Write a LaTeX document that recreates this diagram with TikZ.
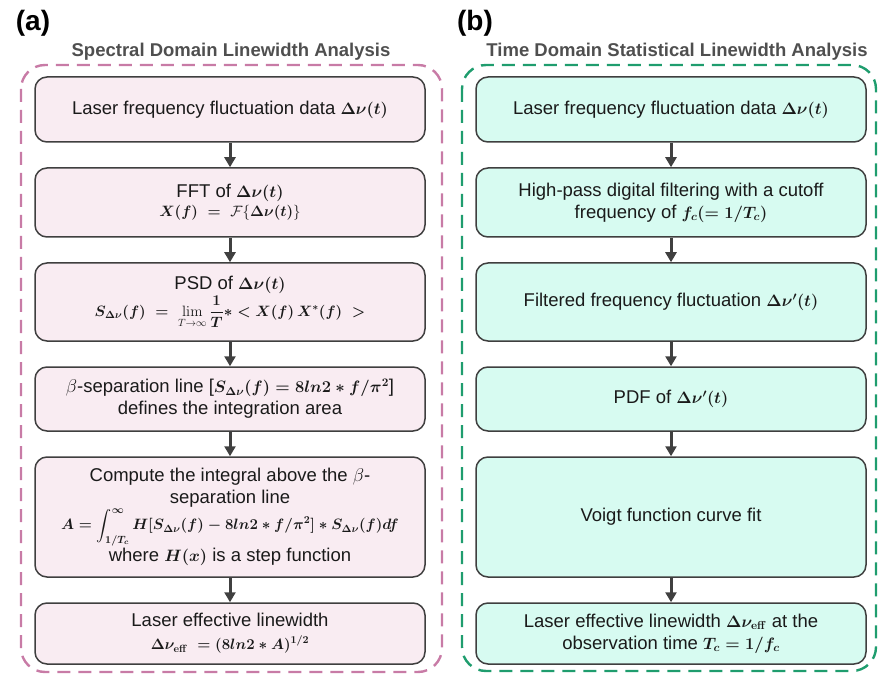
\documentclass[tikz,border=0pt]{standalone}
\usepackage{fix-cm}
\usepackage{amsmath,amssymb}
\usepackage{bm}
\usepackage[no-math]{fontspec}
\setmainfont{Liberation Sans}
\usetikzlibrary{arrows.meta}
\definecolor{pinkfill}{HTML}{F9ECF2}
\definecolor{cyanfill}{HTML}{D7FBF1}
\definecolor{boxline}{HTML}{3F3F3F}
\definecolor{arrowc}{HTML}{404040}
\definecolor{pinkdash}{HTML}{C87BA6}
\definecolor{greendash}{HTML}{1F9D6E}
\definecolor{titlec}{HTML}{4F4F4F}
\definecolor{txt}{HTML}{1A1A1A}
\newcommand{\bmx}[1]{{\fontsize{16.5}{20}\selectfont\boldmath$#1$}}
\newcommand{\fmx}[1]{{\fontsize{15}{18}\selectfont\boldmath$\displaystyle #1$}}
\begin{document}
\begin{tikzpicture}[x=1pt,y=-1pt,
  box/.style={draw=boxline, line width=1.5pt, rounded corners=12pt, minimum width=390pt,
    align=center, text=txt, font=\fontsize{18.5}{22}\selectfont, inner sep=2pt},
  lbox/.style={box, fill=pinkfill},
  rbox/.style={box, fill=cyanfill},
  arr/.style={draw=arrowc, line width=3pt, -{Triangle[length=10pt,width=11pt]}},
  frame/.style={line width=2.4pt, rounded corners=24pt, dash pattern=on 13pt off 8pt},
  paneltitle/.style={font=\bfseries\fontsize{18.5}{22}\selectfont, text=titlec, inner sep=0pt},
  panellabel/.style={font=\bfseries\fontsize{28}{32}\selectfont, text=black, inner sep=0pt}]
\useasboundingbox (0,0) rectangle (878,676);

% panel labels and titles
\node[panellabel] (la) at (33,23) {(a)};
\node[panellabel] (lb) at (475,23) {(b)};
\node[paneltitle] (ta) at (231,52) {Spectral Domain Linewidth Analysis};
\node[paneltitle] (tb) at (677,52) {Time Domain Statistical Linewidth Analysis};

% dashed frames
\draw[frame, draw=pinkdash] (21,65) rectangle (442,672);
\draw[frame, draw=greendash] (462,65) rectangle (876,671);

% left column
\node[lbox, minimum height=65pt] (a1) at (230,109.5) {Laser frequency fluctuation data \bmx{\Delta\nu(t)}};
\node[lbox, minimum height=69pt] (a2) at (230,202.5) {FFT of \bmx{\Delta\nu(t)}\\[-3pt]
  \fmx{X(f)\;=\;\mbox{\unboldmath$\mathcal{F}\{$}\Delta\nu(t)\mbox{\unboldmath$\}$}}};
\node[lbox, minimum height=78pt] (a3) at (230,302) {PSD of \bmx{\Delta\nu(t)}\\[1pt]
  \fmx{S_{\Delta\nu}(f)\;=\;\mbox{\unboldmath$\displaystyle\lim_{\boldmath T\to\infty}$}\,\frac{1}{T}\ast<X(f)\,X^{*}(f)\;>}};
\node[lbox, minimum height=64pt] (a4) at (230,399) {$\beta$-separation line [\bmx{S_{\Delta\nu}(f)=8ln2\ast f/\pi^{2}}]\\
  defines the integration area};
\node[lbox, minimum height=120pt] (a5) at (230,517) {Compute the integral above the $\beta$-\\
  separation line\\[0pt]
  \fmx{A=\int_{1/T_c}^{\infty}H[S_{\Delta\nu}(f)-8ln2\ast f/\pi^{2}]\ast S_{\Delta\nu}(f)df}\\[1pt]
  where \bmx{H(x)} is a step function};
\node[lbox, minimum height=61pt] (a6) at (230,633.5) {Laser effective linewidth\\[1pt]
  \fmx{\Delta\nu_{\mathbf{eff}}\;=(8ln2\ast A)^{1/2}}};

\draw[arr] (a1.south) -- (a2.north);
\draw[arr] (a2.south) -- (a3.north);
\draw[arr] (a3.south) -- (a4.north);
\draw[arr] (a4.south) -- (a5.north);
\draw[arr] (a5.south) -- (a6.north);

% right column
\node[rbox, minimum height=65pt] (b1) at (671,109.5) {Laser frequency fluctuation data \bmx{\Delta\nu(t)}};
\node[rbox, minimum height=69pt] (b2) at (671,202.5) {High-pass digital filtering with a cutoff\\
  frequency of \bmx{f_c(=1/T_c)}};
\node[rbox, minimum height=78pt] (b3) at (671,302) {Filtered frequency fluctuation \bmx{\Delta\nu'(t)}};
\node[rbox, minimum height=64pt] (b4) at (671,399) {PDF of \bmx{\Delta\nu'(t)}};
\node[rbox, minimum height=120pt] (b5) at (671,517) {Voigt function curve fit};
\node[rbox, minimum height=61pt] (b6) at (671,633.5) {Laser effective linewidth \bmx{\Delta\nu_{\mathbf{eff}}} at the\\
  observation time \bmx{T_c=1/f_c}};

\draw[arr] (b1.south) -- (b2.north);
\draw[arr] (b2.south) -- (b3.north);
\draw[arr] (b3.south) -- (b4.north);
\draw[arr] (b4.south) -- (b5.north);
\draw[arr] (b5.south) -- (b6.north);
\end{tikzpicture}
\end{document}
